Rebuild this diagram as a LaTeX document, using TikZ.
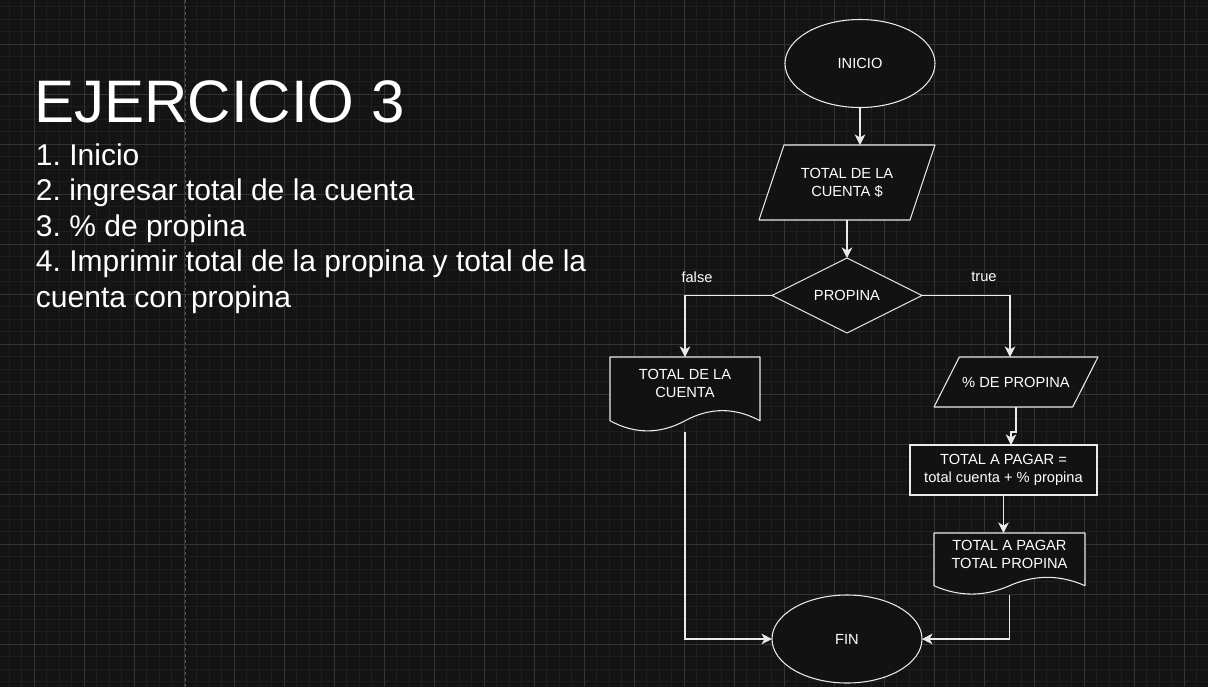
\documentclass[tikz,border=0pt]{standalone}
\usepackage{fontspec}
\setmainfont{Liberation Sans}
\usetikzlibrary{arrows.meta,calc,shapes.geometric}
\definecolor{bgc}{HTML}{131313}
\definecolor{minorc}{HTML}{1E1E1E}
\definecolor{majorc}{HTML}{343434}
\definecolor{pagec}{HTML}{555555}
\definecolor{lc}{HTML}{EAEAEA}
\definecolor{shapefill}{HTML}{121212}
\newcommand\diafont{\fontsize{11}{13.5}\selectfont}
\newcommand\listfont{\fontsize{22.5}{27}\selectfont}
\pgfdeclarelayer{grid}
\pgfdeclarelayer{shapes}
\pgfsetlayers{grid,shapes,main}
\newcommand\docoutline[1]{%
  \draw[shp] let \p1=(#1.north west), \p2=(#1.south east) in
  (\p1) -- (\x2,\y1) -- (\x2,{\y1+0.85*(\y2-\y1)})
  .. controls ({\x1+0.8333*(\x2-\x1)},{\y1+0.67*(\y2-\y1)}) and ({\x1+0.6667*(\x2-\x1)},{\y1+0.67*(\y2-\y1)}) .. ({\x1+0.5*(\x2-\x1)},{\y1+0.85*(\y2-\y1)})
  .. controls ({\x1+0.3333*(\x2-\x1)},{\y1+1.03*(\y2-\y1)}) and ({\x1+0.1667*(\x2-\x1)},{\y1+1.03*(\y2-\y1)}) .. (\x1,{\y1+0.85*(\y2-\y1)}) -- cycle;}
\frenchspacing
\begin{document}
\begin{tikzpicture}[x=0.75pt,y=-0.75pt,
  shp/.style={draw=lc, fill=shapefill, line width=0.8pt, line join=round},
  bb/.style={draw=none, inner sep=0pt, outer sep=0pt, text=white, font=\diafont, align=center},
  ell/.style={ellipse, draw=lc, fill=shapefill, line width=0.8pt, inner sep=0pt, outer sep=0pt, text=white, font=\diafont, minimum width=112.5pt, minimum height=66pt},
  arr/.style={draw=lc, line width=0.8pt, -{Stealth[length=8pt,width=8pt,inset=2.4pt]}},
  minor/.style={draw=minorc, line width=0.75pt},
  major/.style={draw=majorc, line width=0.75pt},
  txt/.style={anchor=base west, inner sep=0pt, outer sep=0pt, text=white},
]
\useasboundingbox (0,0) rectangle (1208,687);
\begin{pgfonlayer}{grid}
  \fill[bgc] (0,0) rectangle (1208,687);
  \foreach \k in {-2,...,93} \draw[minor] ({34.3+12.5*\k},0) -- ({34.3+12.5*\k},687);
  \foreach \k in {-3,...,51} \draw[minor] (0,{44.3+12.5*\k}) -- (1208,{44.3+12.5*\k});
  \foreach \k in {0,...,23} \draw[major] ({34.3+50*\k},0) -- ({34.3+50*\k},687);
  \foreach \k in {0,...,12} \draw[major] (0,{44.3+50*\k}) -- (1208,{44.3+50*\k});
  \draw[draw=pagec, line width=0.75pt, dash pattern=on 2.25pt off 2.25pt] (185,0) -- (185,687);
\end{pgfonlayer}

% left text
\node[txt, font=\fontsize{45}{54}\selectfont] (title) at (34.5,122) {EJERCICIO 3};
\node[txt, font=\listfont] (l1) at (36,165) {1. Inicio};
\node[txt, font=\listfont] (l2) at (36,200.5) {2. ingresar total de la cuenta};
\node[txt, font=\listfont] (l3) at (36,236) {3. \% de propina};
\node[txt, font=\listfont] (l4) at (36,271.5) {4. Imprimir total de la propina y total de la};
\node[txt, font=\listfont] (l5) at (36,307) {cuenta con propina};

% flowchart nodes
\node[ell] (inicio) at (860,63.5) {INICIO};
\node[bb, minimum width=132pt, minimum height=56.25pt] (p1) at (847,182.5) {TOTAL DE LA\\CUENTA \$};
\node[bb, minimum width=112.5pt, minimum height=56.25pt] (d) at (847,295.5) {PROPINA};
\node[bb, minimum width=112.5pt, minimum height=56.25pt,
  label={[bb, yshift=8.44pt]center:{TOTAL DE LA\\CUENTA}}] (doc1) at (685,394.5) {};
\node[bb, minimum width=123pt, minimum height=37.5pt] (p2) at (1016,382) {\% DE PROPINA};
\node[bb, draw=lc, fill=shapefill, line width=0.8pt, minimum width=140.25pt, minimum height=37.5pt] (box) at (1003.5,470) {TOTAL A PAGAR =\\total cuenta + \% propina};
\node[bb, minimum width=113.25pt, minimum height=46.5pt,
  label={[bb, yshift=7pt]center:{TOTAL A PAGAR\\TOTAL PROPINA}}] (doc2) at (1009.5,564) {};
\node[ell] (fin) at (847,639) {FIN};

\node[bb] (lf) at (697,277) {false};
\node[bb] (lt) at (984,277) {true};

% outlines
\begin{pgfonlayer}{shapes}
  \draw[shp] ([xshift=18.75pt]p1.north west) -- (p1.north east) -- ([xshift=-18.75pt]p1.south east) -- (p1.south west) -- cycle;
  \draw[shp] (d.north) -- (d.east) -- (d.south) -- (d.west) -- cycle;
  \draw[shp] ([xshift=19pt]p2.north west) -- (p2.north east) -- ([xshift=-19pt]p2.south east) -- (p2.south west) -- cycle;
  \docoutline{doc1}
  \docoutline{doc2}
\end{pgfonlayer}

% connectors
\coordinate (k1) at (1011,432);
\draw[arr] (inicio.south) -- (inicio.south |- p1.north);
\draw[arr] (p1.south) -- (d.north);
\draw[arr] (d.west) -| (doc1.north);
\draw[arr] (d.east) -| ([xshift=-4.5pt]p2.north);
\draw[arr] (p2.south) |- (k1) -- (k1 |- box.north);
\draw[arr] (box.south) -- (box.south |- doc2.north);
\draw[arr] (doc1.south) |- (fin.west);
\draw[arr] (doc2.south) |- (fin.east);
\end{tikzpicture}
\end{document}
